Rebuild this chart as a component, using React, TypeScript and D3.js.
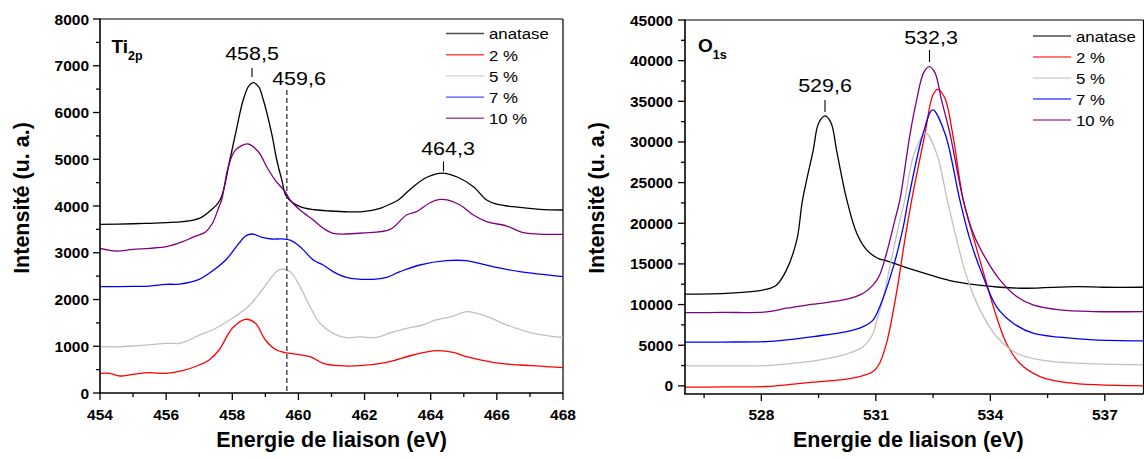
import React from "react";
import * as d3 from "d3";

// ---------- Ti2p panel data (binding energy eV, intensity) ----------
const tiAnatase: [number, number][] = [[454,3608],[455,3620],[455.5,3630],[456,3645],[456.5,3665],[457,3736],[457.3,3878],[457.63,4128],[457.93,5000],[458.1,5555],[458.33,6267],[458.5,6570],[458.64,6637],[458.8,6550],[458.94,6267],[459.19,5555],[459.34,5000],[459.5,4550],[459.64,4200],[460.05,3985],[460.5,3920],[460.95,3893],[461.5,3875],[461.95,3880],[462.47,3950],[462.86,4070],[463.02,4128],[463.47,4413],[463.9,4620],[464.35,4705],[464.8,4620],[465.29,4413],[465.69,4128],[466.0,4040],[466.49,3985],[467.3,3929],[468,3914]];
const ti2: [number, number][] = [[454,420],[454.3,420],[454.6,364],[455,400],[455.5,434],[456,420],[456.5,477],[457,599],[457.3,706],[457.6,920],[458,1384],[458.4,1576],[458.7,1491],[459,1134],[459.3,935],[459.6,862],[459.75,849],[460.35,777],[460.75,635],[461.25,584],[461.85,584],[462.67,656],[463.47,813],[464.18,905],[464.68,870],[465.08,777],[465.88,656],[466.69,599],[467.3,577],[468,541]];
const ti5: [number, number][] = [[454,990],[454.5,988],[455,1005],[456,1063],[456.4,1063],[456.7,1134],[457,1240],[457.4,1348],[458,1598],[458.5,1861],[458.9,2203],[459.2,2488],[459.44,2645],[459.75,2595],[460.05,2274],[460.35,1846],[460.65,1491],[461.05,1277],[461.45,1183],[461.85,1200],[462.36,1188],[462.77,1284],[463.27,1384],[463.77,1455],[464.08,1547],[464.68,1647],[465.08,1740],[465.69,1640],[466.3,1455],[467.1,1277],[468,1188]];
const ti7: [number, number][] = [[454,2274],[455,2280],[455.5,2288],[456,2325],[456.4,2331],[457,2432],[457.3,2560],[457.8,2845],[458.2,3202],[458.4,3358],[458.6,3401],[458.9,3330],[459.2,3294],[459.5,3295],[459.75,3270],[460.05,3130],[460.45,2845],[460.75,2738],[461.05,2595],[461.45,2474],[462.26,2432],[462.67,2474],[463.07,2595],[463.67,2738],[464.47,2830],[465.07,2830],[465.88,2702],[466.69,2595],[468,2488]];
const ti10: [number, number][] = [[454,3095],[454.5,3037],[455,3073],[455.5,3095],[456,3130],[456.5,3237],[456.8,3330],[457.2,3450],[457.4,3630],[457.6,3985],[457.68,4128],[457.88,4840],[458.1,5200],[458.48,5326],[458.8,5150],[459.04,4840],[459.3,4550],[459.6,4306],[459.75,4128],[460.05,3914],[460.45,3700],[460.75,3523],[461.05,3416],[461.96,3423],[462.77,3500],[463.27,3807],[463.57,3878],[463.98,4070],[464.28,4140],[464.5,4130],[464.89,4021],[465.29,3807],[465.69,3665],[466.3,3572],[466.8,3430],[468,3394]];

// ---------- O1s panel data ----------
const oAnatase: [number, number][] = [[526,11275],[527.18,11398],[528.14,11890],[528.4,12419],[528.66,14263],[528.93,17951],[529.08,22870],[529.36,29000],[529.5,32300],[529.67,33198],[529.83,32300],[529.97,29000],[530.24,22870],[530.5,18775],[530.76,16722],[531.1,15578],[531.2,15492],[531.72,14668],[532.33,13771],[532.94,12948],[533.64,12419],[534.25,12132],[534.95,12009],[536.26,12214],[536.96,12132],[538,12132]];
const o2: [number, number][] = [[526,-160],[527,-130],[528.14,-80],[528.84,209],[529.36,455],[530.06,738],[530.58,1148],[530.93,1758],[531.1,2787],[531.28,5250],[531.54,11398],[531.76,17951],[531.94,22870],[532.29,31068],[532.48,35600],[532.61,36478],[532.8,35500],[533.01,31068],[533.29,22870],[533.55,18360],[533.9,12624],[534.16,8525],[534.42,5250],[534.77,2787],[535.3,1148],[536,410],[538,0]];
const o5: [number, number][] = [[526,2459],[527,2470],[528.14,2500],[528.84,2787],[529.54,3197],[530.24,3935],[530.67,4837],[530.93,6476],[531.02,8000],[531.15,10000],[531.37,14668],[531.63,20411],[531.76,22870],[532.0,28500],[532.31,31068],[532.6,28500],[532.87,22870],[533.12,17951],[533.38,13443],[533.73,9344],[534.16,6066],[534.69,4016],[535.3,3197],[536.26,2787],[538,2582]];
const o7: [number, number][] = [[526,5373],[527,5390],[528.14,5450],[528.66,5656],[529.36,6066],[530.24,6680],[530.67,7291],[530.93,8115],[531.1,9700],[531.46,14668],[531.72,19590],[531.85,22870],[532.24,31068],[532.49,33935],[532.81,31068],[533.2,22870],[533.47,17951],[533.81,13443],[534.16,9754],[534.6,7705],[535.12,6476],[535.82,5983],[536.7,5656],[538,5533]];
const o10: [number, number][] = [[526,9016],[527,9030],[528.14,9098],[528.66,9549],[529.36,10041],[530.24,10656],[530.67,11398],[530.93,12419],[531.1,13648],[531.28,16316],[531.5,20411],[531.63,22870],[531.9,31068],[532.07,35166],[532.25,38500],[532.4,39260],[532.55,38500],[532.72,35166],[532.94,31068],[533.29,22870],[533.55,18775],[533.9,15492],[534.25,13033],[534.69,10984],[535.12,9959],[535.82,9344],[536.7,9139],[538,9139]];

const seriesNames = ["anatase", "2 %", "5 %", "7 %", "10 %"];
const seriesColors = ["#000000", "#ff0000", "#c0c0c0", "#0000ff", "#800080"];
const tiSeries = [tiAnatase, ti2, ti5, ti7, ti10];
const oSeries = [oAnatase, o2, o5, o7, o10];

const tiXMajor = [454, 456, 458, 460, 462, 464, 466, 468];
const tiXMinor = [455, 457, 459, 461, 463, 465, 467];
const tiYMajor = [0, 1000, 2000, 3000, 4000, 5000, 6000, 7000, 8000];
const oXMajor = [528, 531, 534, 537];
const oXMinor = [526.5, 529.5, 532.5, 535.5];
const oYMajor = [0, 5000, 10000, 15000, 20000, 25000, 30000, 35000, 40000, 45000];

const FONT = "Liberation Sans, Arial, Helvetica, sans-serif";

function SText({ x, y, sx = 1, size, anchor = "start", weight = "normal", children }: any) {
  return (
    <text
      transform={`translate(${x},${y}) scale(${sx},1)`}
      textAnchor={anchor}
      fontSize={size}
      fontWeight={weight}
      fontFamily={FONT}
      fill="#000"
    >
      {children}
    </text>
  );
}

function Panel({ x, y, series, xMajor, xMinor, yMajor, yMinorStep, left, right, top, bottom, labelRight, legendX, legendY, legendStep, title, sub, titleX, titleY, annotations, ytitleX, dashed }: any) {
  const yMinor: number[] = [];
  for (let v = yMajor[0] + yMinorStep; v < yMajor[yMajor.length - 1]; v += yMinorStep * 2) yMinor.push(v);
  const line = d3
    .line<[number, number]>()
    .x((d) => x(d[0]))
    .y((d) => y(d[1]))
    .curve(d3.curveCatmullRom.alpha(0.5));
  return (
    <g>
      {/* frame */}
      <line x1={left} x2={right} y1={top} y2={top} stroke="#000" strokeWidth={1.2} />
      <line x1={right} x2={right} y1={top} y2={bottom} stroke="#000" strokeWidth={1.2} />
      {/* data */}
      {series.map((s: [number, number][], i: number) => (
        <path key={i} d={line(s) || ""} fill="none" stroke={seriesColors[i]} strokeWidth={1.3} />
      ))}
      {dashed && (
        <line x1={x(dashed.v)} x2={x(dashed.v)} y1={dashed.y1} y2={bottom} stroke="#333" strokeWidth={1.3} strokeDasharray="5,3" />
      )}
      {/* axes */}
      <line x1={left} x2={left} y1={top - 0.5} y2={bottom} stroke="#000" strokeWidth={1.6} />
      <line x1={left - 0.8} x2={right} y1={bottom} y2={bottom} stroke="#000" strokeWidth={1.6} />
      {xMajor.map((v: number) => (
        <g key={"xm" + v}>
          <line x1={x(v)} x2={x(v)} y1={bottom} y2={bottom + 7} stroke="#000" strokeWidth={1.3} />
          <text x={x(v)} y={419.5} textAnchor="middle" fontSize={15.5} fontWeight="bold" fontFamily={FONT}>{v}</text>
        </g>
      ))}
      {xMinor.map((v: number) => (
        <line key={"xn" + v} x1={x(v)} x2={x(v)} y1={bottom} y2={bottom + 4} stroke="#000" strokeWidth={1.3} />
      ))}
      {yMajor.map((v: number) => (
        <g key={"ym" + v}>
          <line x1={left - 7} x2={left} y1={y(v)} y2={y(v)} stroke="#000" strokeWidth={1.3} />
          <text x={labelRight} y={y(v) + 5.5} textAnchor="end" fontSize={15.5} fontWeight="bold" fontFamily={FONT}>{v}</text>
        </g>
      ))}
      {yMinor.map((v: number) => (
        <line key={"yn" + v} x1={left - 4} x2={left} y1={y(v)} y2={y(v)} stroke="#000" strokeWidth={1.3} />
      ))}
      {/* axis titles */}
      <text
        transform={`translate(${ytitleX},198) rotate(-90)`}
        textAnchor="middle"
        fontSize={21.5}
        fontWeight="bold"
        fontFamily={FONT}
      >
        Intensité (u. a.)
      </text>
      <text x={(left + right) / 2 + (right > 1000 ? -6 : 0)} y={446.5} textAnchor="middle" fontSize={21.5} fontWeight="bold" fontFamily={FONT}>
        Energie de liaison (eV)
      </text>
      {/* panel title */}
      <text x={titleX} y={titleY} fontSize={19} fontWeight="bold" fontFamily={FONT}>
        {title}
        <tspan fontSize={12.5} dy={7}>{sub}</tspan>
      </text>
      {/* legend */}
      {seriesNames.map((n, i) => (
        <g key={n}>
          <line x1={legendX} x2={legendX + 38} y1={legendY + i * legendStep} y2={legendY + i * legendStep} stroke={seriesColors[i]} strokeWidth={1.4} opacity={0.7} />
          <SText x={legendX + 43} y={legendY + i * legendStep + 5.8} size={15} sx={1.12}>{n}</SText>
        </g>
      ))}
      {/* annotations */}
      {annotations.map((a: any) => (
        <g key={a.text}>
          <SText x={a.tx} y={a.ty} size={18.5} sx={1.16} anchor="middle">{a.text}</SText>
          {a.t1 !== undefined && <line x1={a.lx} x2={a.lx} y1={a.t1} y2={a.t2} stroke="#000" strokeWidth={1.1} />}
        </g>
      ))}
    </g>
  );
}

export default function App() {
  const xL = d3.scaleLinear().domain([454, 468]).range([100, 563]);
  const yL = d3.scaleLinear().domain([0, 8000]).range([393, 19]);
  const xR = d3.scaleLinear().domain([526, 538]).range([685, 1143]);
  const yR = d3.scaleLinear().domain([-1000, 45000]).range([394, 20]);
  return (
    <svg width={1144} height={459} style={{ position: "absolute", left: 0, top: 0, background: "#fff" }}>
      <rect x={0} y={0} width={1144} height={459} fill="#fff" />
      <Panel
        x={xL} y={yL} series={tiSeries}
        xMajor={tiXMajor} xMinor={tiXMinor} yMajor={tiYMajor} yMinorStep={500}
        left={100} right={563} top={19} bottom={393} labelRight={89}
        legendX={446} legendY={33.5} legendStep={21.2}
        title="Ti" sub="2p" titleX={111.5} titleY={52.5}
        ytitleX={29}
        dashed={{ v: 459.65, y1: 90 }}
        annotations={[
          { text: "458,5", tx: 252, ty: 60, lx: 252, t1: 68, t2: 77 },
          { text: "459,6", tx: 299, ty: 85 },
          { text: "464,3", tx: 448, ty: 155, lx: 443.5, t1: 161.5, t2: 171.5 },
        ]}
      />
      <Panel
        x={xR} y={yR} series={oSeries}
        xMajor={oXMajor} xMinor={oXMinor} yMajor={oYMajor} yMinorStep={2500}
        left={685} right={1143.5} top={20} bottom={394} labelRight={673}
        legendX={1033} legendY={36} legendStep={21}
        title="O" sub="1s" titleX={698} titleY={51.5}
        ytitleX={604}
        annotations={[
          { text: "529,6", tx: 825, ty: 92, lx: 825, t1: 100, t2: 112 },
          { text: "532,3", tx: 931, ty: 44, lx: 929.5, t1: 50, t2: 62 },
        ]}
      />
    </svg>
  );
}
